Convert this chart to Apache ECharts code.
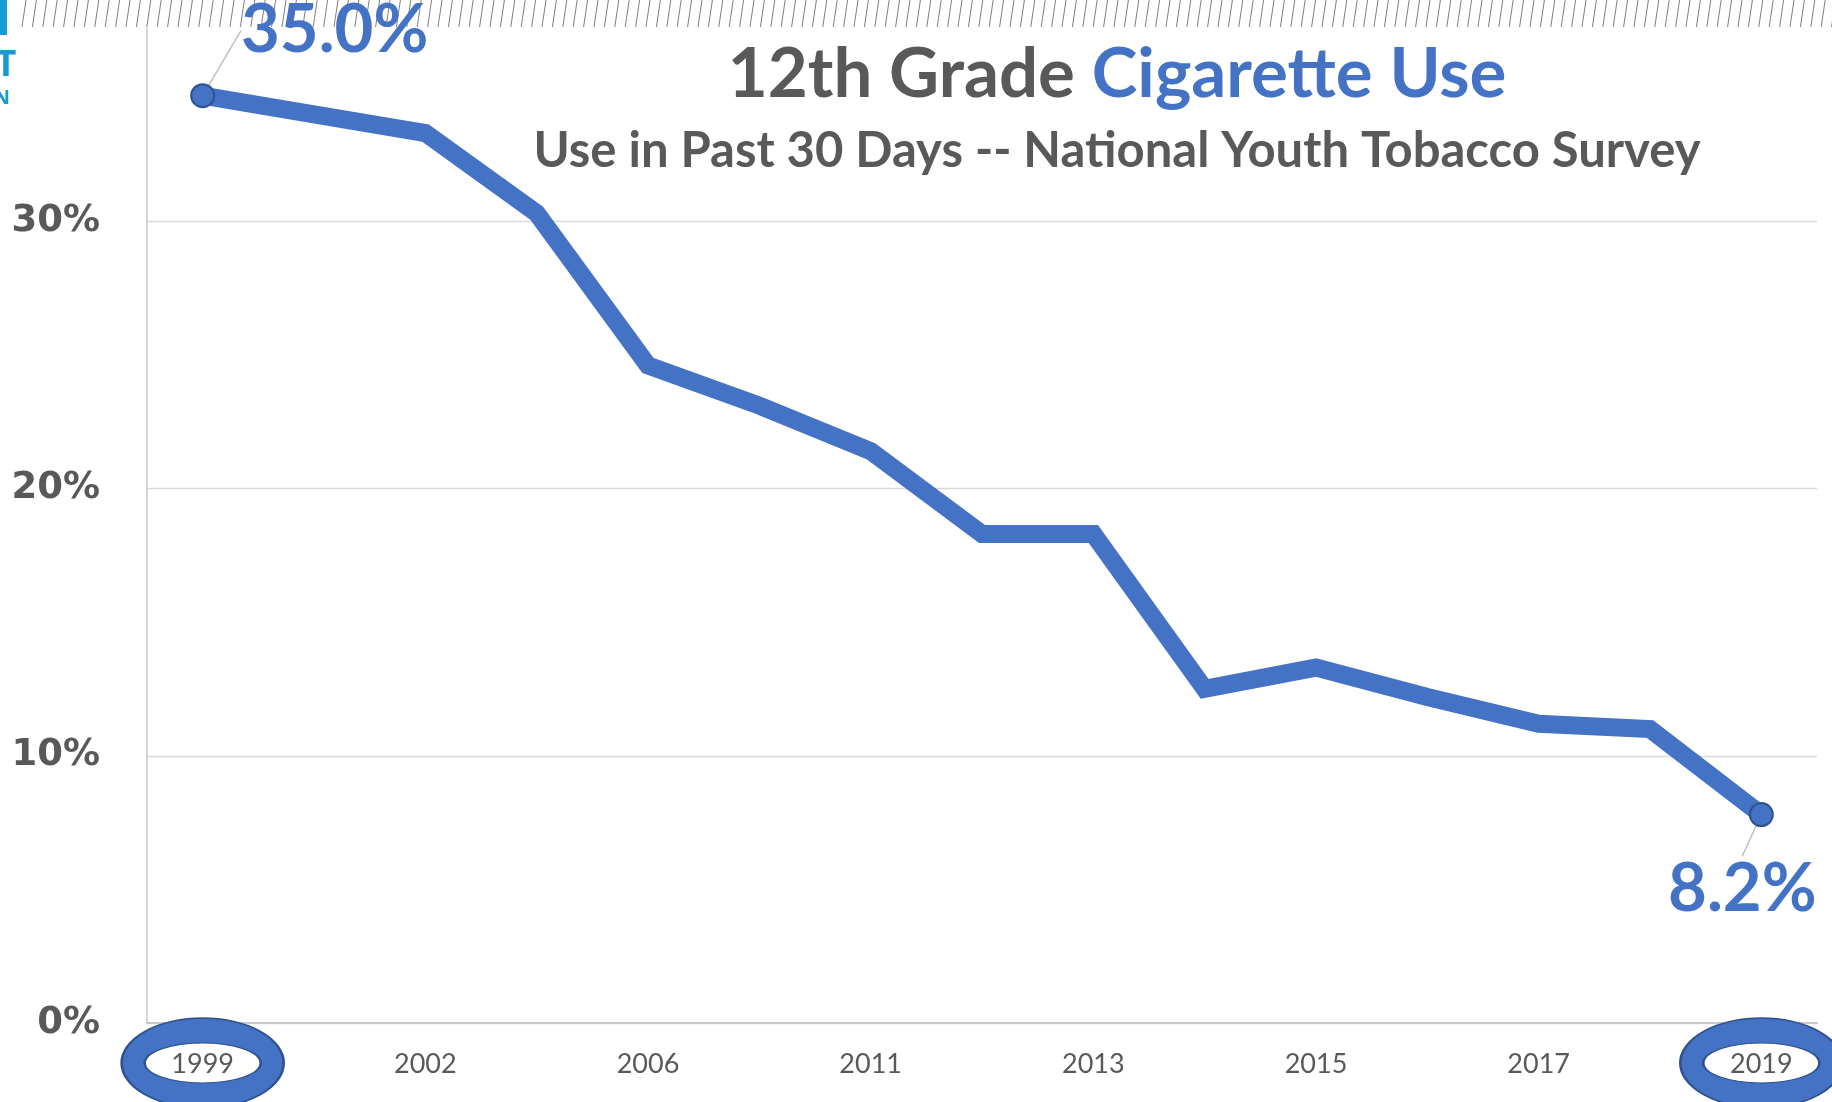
<!DOCTYPE html>
<html>
<head>
<meta charset="utf-8">
<script src="https://cdn.jsdelivr.net/npm/echarts@6/dist/echarts.min.js"></script>
<style>
html,body{margin:0;padding:0;background:#fff;}
#chart{width:1832px;height:1102px;}
</style>
</head>
<body>
<div id="chart"></div>
<script>
// ---- data ----
const years = ['1999','2000','2002','2004','2006','2009','2011','2012','2013','2014','2015','2016','2017','2018','2019'];
const usePct = [34.7, 34.0, 33.3, 30.3, 24.6, 23.1, 21.4, 18.3, 18.3, 12.5, 13.3, 12.2, 11.2, 11.0, 7.8];
const endLabels = ['35.0%', '8.2%'];
const circledYears = ['1999', '2019'];
const yMin = 0, yMax = 40, yStep = 10;
const titleMain = '12th Grade ';
const titleBlue = 'Cigarette Use';
const subTitle = 'Use in Past 30 Days -- National Youth Tobacco Survey';

// ---- styles ----
const BLUE = '#4472C4', DARK_BLUE = '#2F528F', GRAY = '#595959';
const last = usePct.length - 1;

const lineData = usePct.map((v, i) => {
  const isEnd = (i === 0 || i === last);
  return {
    value: v,
    symbol: isEnd ? 'circle' : 'none',
    label: {
      show: isEnd,
      position: i === 0 ? 'top' : 'bottom',
      formatter: () => (i === 0 ? endLabels[0] : endLabels[1])
    }
  };
});

// decorative stripe band at the top
const stripes = [{ type: 'rect', z: 1, shape: { x: 0, y: 0, width: 1832, height: 28 }, style: { fill: '#fff' } }];
for (let x = 22; x < 1840; x += 10.4) {
  stripes.push({ type: 'line', z: 1, shape: { x1: x, y1: 27, x2: x + 4, y2: 0 }, style: { stroke: '#7f7f7f', lineWidth: 1 } });
}
stripes.push({ type: 'rect', z: 1, shape: { x: 0, y: 0, width: 7, height: 35 }, style: { fill: '#159ad2' } });
stripes.push({ type: 'text', z: 1, x: 6, y: 66, style: { text: 'T', fill: '#159ad2', font: 'bold 36px "Open Sans"', textAlign: 'center', textVerticalAlign: 'middle' } });
stripes.push({ type: 'text', z: 1, x: 2, y: 98, style: { text: 'N', fill: '#159ad2', font: 'bold 20px "Open Sans"', textAlign: 'center', textVerticalAlign: 'middle' } });

const chart = echarts.init(document.getElementById('chart'), null, { renderer: 'canvas' });
chart.setOption({
  backgroundColor: '#fff',
  animation: false,
  title: [
    {
      left: 1112, top: 35, textAlign: 'center',
      text: '{a|' + titleMain + '}{b|' + titleBlue + '}',
      textStyle: {
        rich: {
          a: { fontFamily: 'Lato', fontWeight: 'bold', fontSize: 69, color: GRAY },
          b: { fontFamily: 'Lato', fontWeight: 'bold', fontSize: 69, color: BLUE }
        }
      }
    },
    {
      left: 1112, top: 122, textAlign: 'center',
      text: subTitle,
      textStyle: { fontFamily: 'Lato', fontWeight: 'bold', fontSize: 49, color: GRAY }
    }
  ],
  grid: { left: 147, right: 15, top: -46, bottom: 79, containLabel: false, outerBoundsMode: 'none' },
  xAxis: [
    {
      type: 'category', data: years, boundaryGap: true,
      axisLine: { show: true, lineStyle: { color: '#c8c8c8', width: 2 } },
      axisTick: { show: false }, axisLabel: { show: false }, splitLine: { show: false }
    },
    {
      type: 'category', data: years, boundaryGap: true, position: 'bottom', z: 10,
      axisLine: { show: false }, axisTick: { show: false }, splitLine: { show: false },
      axisLabel: { interval: 1, margin: 28, fontFamily: 'Lato', fontSize: 27, color: GRAY }
    }
  ],
  yAxis: {
    type: 'value', min: yMin, max: yMax, interval: yStep,
    axisLine: { show: true, lineStyle: { color: '#c8c8c8', width: 1.5 } },
    axisTick: { show: false },
    splitLine: { show: true, lineStyle: { color: '#d9d9d9', width: 1.3 } },
    axisLabel: {
      margin: 47, formatter: '{value}%',
      fontFamily: 'DejaVu Sans', fontWeight: 'bold', fontSize: 37, color: GRAY
    }
  },
  graphic: stripes,
  series: [
    {
      type: 'line', xAxisIndex: 0, data: lineData, z: 3,
      showAllSymbol: true, symbolSize: 23,
      lineStyle: { color: BLUE, width: 18, join: 'miter', cap: 'butt' },
      itemStyle: { color: BLUE, borderColor: DARK_BLUE, borderWidth: 2 },
      label: { fontFamily: 'Lato', fontWeight: 'bold', fontSize: 67, color: BLUE },
      labelLine: { show: true, lineStyle: { color: '#bfbfbf', width: 1.5 } },
      labelLayout: (p) => {
        if (p.dataIndex === 0) return { dx: 132, dy: -14 };
        return { dx: -19, dy: 24 };
      },
      emphasis: { disabled: true }
    },
    {
      type: 'scatter', xAxisIndex: 0, clip: false, z: 4, silent: true,
      data: circledYears.map(y => [y, 0]),
      symbol: 'circle', symbolSize: [162, 90], symbolOffset: [0, 40],
      itemStyle: { color: BLUE, borderColor: DARK_BLUE, borderWidth: 2, opacity: 1 }
    },
    {
      type: 'scatter', xAxisIndex: 0, clip: false, z: 5, silent: true,
      data: circledYears.map(y => [y, 0]),
      symbol: 'circle', symbolSize: [116, 40], symbolOffset: [0, 40],
      itemStyle: { color: '#fff', borderColor: DARK_BLUE, borderWidth: 1.5, opacity: 1 }
    }
  ]
});
</script>
</body>
</html>
